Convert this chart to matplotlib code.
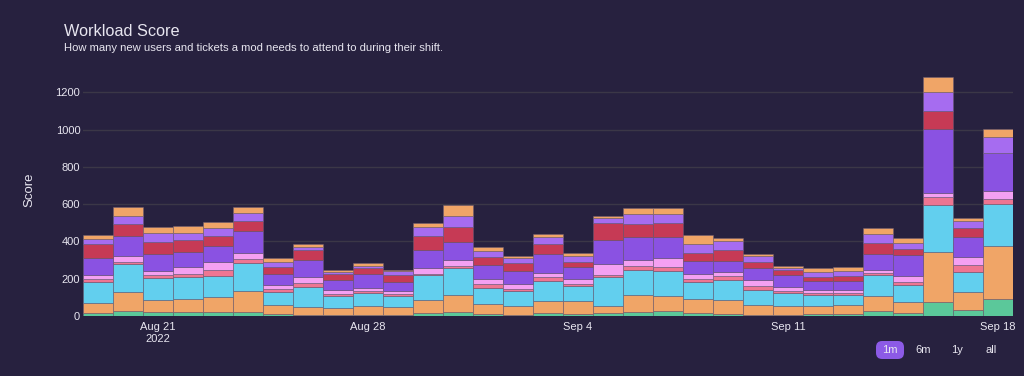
import matplotlib
matplotlib.use('Agg')
import matplotlib.pyplot as plt
import matplotlib.dates as mdates
from matplotlib.patches import FancyBboxPatch
import numpy as np
import pandas as pd

plt.rcParams['font.family'] = ['Liberation Sans', 'DejaVu Sans']

# ---------------- data ----------------
dates = pd.date_range('2022-08-19', '2022-09-18', freq='D')

new_users = [14, 29, 20, 20, 20, 20, 9, 7, 4, 5, 5, 14, 21, 13, 7, 18, 11, 14, 21, 27,
             18, 9, 7, 7, 13, 13, 29, 18, 75, 34, 91]
tickets_a = [57, 98, 64, 71, 82, 116, 52, 43, 39, 47, 43, 70, 92, 51, 47, 62, 69, 40, 92, 78,
             73, 75, 54, 47, 39, 44, 76, 59, 267, 93, 283]
tickets_b = [111, 152, 122, 120, 113, 150, 66, 107, 64, 70, 61, 134, 144, 88, 78, 110, 81, 155, 136, 138,
             93, 109, 78, 69, 59, 56, 115, 91, 252, 107, 225]
tickets_c = [18, 12, 12, 16, 30, 20, 18, 22, 13, 10, 9, 9, 13, 18, 11, 19, 12, 11, 21, 22,
             14, 22, 22, 13, 12, 10, 12, 13, 44, 40, 30]
tickets_d = [20, 31, 22, 38, 46, 30, 23, 30, 18, 20, 18, 32, 30, 28, 30, 23, 25, 57, 30, 46,
             29, 19, 30, 21, 15, 18, 13, 34, 20, 41, 42]
tickets_e = [91, 105, 91, 80, 84, 120, 56, 91, 55, 72, 45, 93, 97, 77, 70, 99, 65, 131, 124, 113,
             70, 63, 65, 61, 52, 47, 88, 112, 343, 109, 205]
tickets_f = [77, 66, 68, 63, 54, 54, 41, 54, 34, 33, 37, 77, 82, 41, 41, 53, 27, 93, 68, 77,
             39, 55, 34, 29, 19, 25, 59, 34, 99, 46, 0]
tickets_g = [27, 43, 46, 37, 41, 41, 25, 18, 9, 13, 22, 50, 57, 33, 27, 40, 32, 25, 55, 46,
             52, 52, 32, 12, 27, 28, 48, 31, 103, 41, 86]
tickets_h = [18, 50, 31, 36, 36, 35, 21, 14, 9, 14, 9, 20, 58, 23, 9, 18, 18, 10, 31, 31,
             45, 13, 12, 11, 23, 24, 34, 25, 77, 15, 41]

series = [new_users, tickets_a, tickets_b, tickets_c, tickets_d,
          tickets_e, tickets_f, tickets_g, tickets_h]
colors = ['#5bc89a', '#f0a567', '#62cfee', '#ee7592', '#f4a0f2',
          '#8a52e2', '#c63a55', '#a66cf0', '#f0a567']

tick_dates = pd.to_datetime(['2022-08-21', '2022-08-28', '2022-09-04', '2022-09-11', '2022-09-18'])
tick_labels = ['Aug 21\n2022', 'Aug 28', 'Sep 4', 'Sep 11', 'Sep 18']
y_ticks = [0, 200, 400, 600, 800, 1000, 1200]

# ---------------- style ----------------
BG = '#27213f'
GRID = '#3b3747'
TXT = '#e8e6f0'

W, H = 1024, 376
fig = plt.figure(figsize=(W / 100, H / 100), dpi=100, facecolor=BG)
ax = fig.add_axes([83 / W, 60 / H, 930 / W, 251.6 / H], facecolor=BG)

x = mdates.date2num(dates)
bottom = np.zeros(len(x))
for vals, col in zip(series, colors):
    v = np.array(vals, dtype=float)
    ax.bar(x, v, width=1.0, bottom=bottom, color=col,
           edgecolor=(0.42, 0.36, 0.45, 0.7), linewidth=0.5, zorder=3)
    bottom += v

ax.set_xlim(x[0] - 0.5, x[-1] + 0.5)
ax.set_ylim(0, 1350)
ax.set_yticks(y_ticks)
ax.set_yticklabels([str(t) for t in y_ticks])
ax.set_xticks(mdates.date2num(tick_dates))
ax.set_xticklabels(tick_labels, linespacing=1.25)

ax.yaxis.grid(True, color=GRID, linewidth=1.0, zorder=0)
ax.axhline(0, color=GRID, linewidth=1.2, zorder=2)
ax.set_axisbelow(True)
for s in ax.spines.values():
    s.set_visible(False)
ax.tick_params(axis='both', length=0, colors=TXT, labelsize=8)
ax.tick_params(axis='y', pad=2)
ax.tick_params(axis='x', pad=4)

ax.set_ylabel('Score', color=TXT, fontsize=9.5, va='center')
ax.yaxis.set_label_coords((29 - 83) / 930, 0.5)

fig.text(64 / W, 1 - 36 / H, 'Workload Score', color=TXT, fontsize=11.7,
         ha='left', va='baseline')
fig.text(64 / W, 1 - 51 / H,
         'How many new users and tickets a mod needs to attend to during their shift.',
         color=TXT, fontsize=8.1, ha='left', va='baseline')

# range selector buttons
btn = FancyBboxPatch((876 / W, 1 - 359 / H), 28 / W, 18 / H,
                     boxstyle='round,pad=0,rounding_size=0.006',
                     transform=fig.transFigure, facecolor='#8c5ae6',
                     edgecolor='none', mutation_aspect=W / H)
fig.patches.append(btn)
for lab, cx in [('1m', 890), ('6m', 923), ('1y', 957), ('all', 991)]:
    fig.text(cx / W, 1 - 350 / H, lab, color=TXT, fontsize=8, ha='center', va='center')

fig.savefig('out.png', dpi=100, facecolor=BG)
